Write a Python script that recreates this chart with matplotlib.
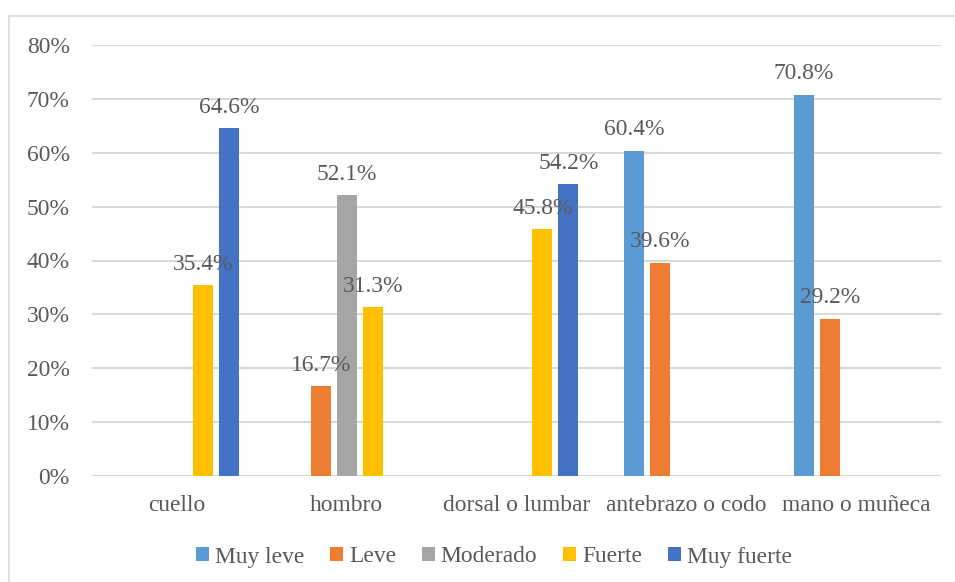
import numpy as np
import matplotlib
matplotlib.use("Agg")
import matplotlib.pyplot as plt
from matplotlib.patches import Rectangle

categories = ["cuello", "hombro", "dorsal o lumbar", "antebrazo o codo", "mano o muñeca"]
series_names = ["Muy leve", "Leve", "Moderado", "Fuerte", "Muy fuerte"]
muy_leve = [0.0, 0.0, 0.0, 60.4, 70.8]
leve = [0.0, 16.7, 0.0, 39.6, 29.2]
moderado = [0.0, 52.1, 0.0, 0.0, 0.0]
fuerte = [35.4, 31.3, 45.8, 0.0, 0.0]
muy_fuerte = [64.6, 0.0, 54.2, 0.0, 0.0]
y_ticks = [0, 10, 20, 30, 40, 50, 60, 70, 80]

colors = ["#5B9BD5", "#ED7D31", "#A5A5A5", "#FFC000", "#4472C4"]
text_color = "#595959"
grid_color = "#D9D9D9"
FS = 16.9

plt.rcParams["font.family"] = ["Liberation Serif", "DejaVu Serif"]

W, H = 955, 582
fig = plt.figure(figsize=(W / 100, H / 100), dpi=100)

# outer frame of the chart area
fig.patches.append(Rectangle((9 / W, -0.05), 1.1, 1 - 16 / H + 0.05,
                             transform=fig.transFigure, fill=False,
                             edgecolor=grid_color, linewidth=1.2))

ax = fig.add_axes([92 / W, (H - 476) / H, (941 - 92) / W, (476 - 45) / H])

values = [muy_leve, leve, moderado, fuerte, muy_fuerte]
x = np.arange(len(categories))
slot = 26 / 170
bw = 20 / 170
for i, (name, vals, col) in enumerate(zip(series_names, values, colors)):
    pos = x + (i - 2) * slot
    ax.bar(pos, vals, width=bw, color=col, linewidth=0, label=name, zorder=3)
    for px, v in zip(pos, vals):
        if v > 0:
            ax.annotate(f"{v:.1f}%", (px, v), xytext=(0, 15), textcoords="offset points",
                        ha="center", va="center", fontsize=FS, color=text_color, zorder=4)

ax.set_xlim(-0.5, len(categories) - 0.5)
ax.set_ylim(0, 80)
ax.set_yticks(y_ticks)
ax.set_yticklabels([f"{t}%" for t in y_ticks])
ax.set_xticks(x)
ax.set_xticklabels(categories)
ax.tick_params(axis="both", length=0, labelsize=FS, labelcolor=text_color)
ax.tick_params(axis="y", pad=16)
ax.tick_params(axis="x", pad=14)
for s in ax.spines.values():
    s.set_visible(False)
ax.grid(axis="y", color=grid_color, linewidth=1.5, zorder=0)
ax.set_axisbelow(True)

handles, labels = ax.get_legend_handles_labels()
leg = fig.legend(handles, labels, loc="center", bbox_to_anchor=(494 / W, (H - 557) / H),
                 ncol=5, frameon=False, fontsize=FS, handlelength=0.55, handleheight=0.55,
                 handletextpad=0.25, columnspacing=1.1, labelcolor=text_color)

fig.savefig("out.png", dpi=100)
